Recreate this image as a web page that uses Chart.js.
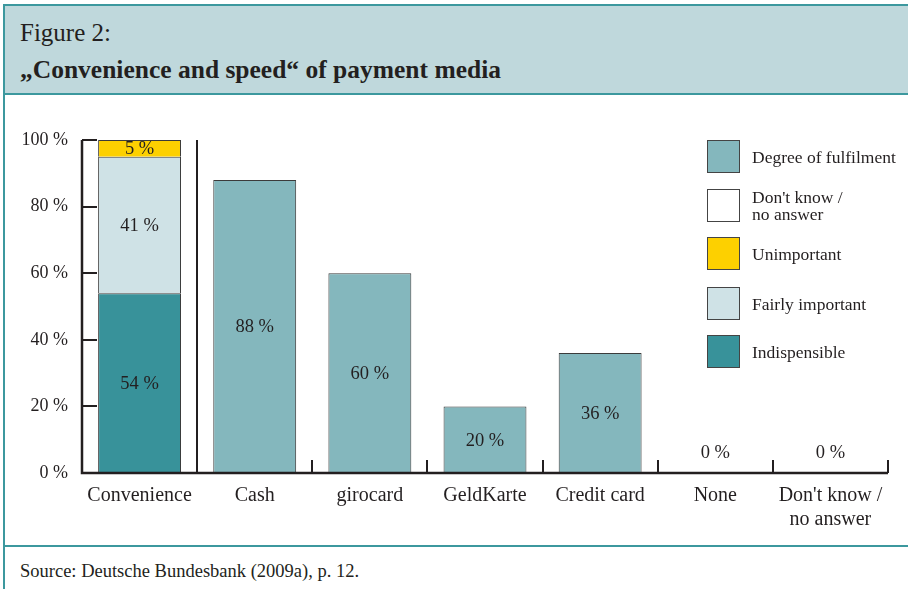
<!DOCTYPE html>
<html>
<head>
<meta charset="utf-8">
<script src="https://cdn.jsdelivr.net/npm/chart.js@4"></script>
<style>
  body { margin: 0; background: #fff; }
  #page { position: relative; width: 908px; height: 589px; overflow: hidden; font-family: "Liberation Serif", serif; color: #231f20; }
  #titlebox { position: absolute; left: 3px; top: 4px; width: 905px; height: 87px; background: #bfd8dc; border-top: 2px solid #3c989e; border-bottom: 2px solid #3c989e; }
  #leftline { position: absolute; left: 3px; top: 4px; width: 2px; height: 585px; background: #3c989e; }
  #divider { position: absolute; left: 3px; top: 545px; width: 905px; height: 2px; background: #3c989e; }
  #fig { position: absolute; left: 20px; top: 19px; font-size: 25px; }
  #title { position: absolute; left: 20px; top: 55px; font-size: 25.5px; font-weight: bold; }
  #source { position: absolute; left: 20px; top: 561px; font-size: 18.5px; }
  #chartwrap { position: absolute; left: 0; top: 97px; width: 908px; height: 448px; }
  #legend { position: absolute; left: 707px; top: 140px; }
  .item { position: absolute; left: 0; width: 200px; height: 33px; }
  .box { position: absolute; left: 0; top: 0; width: 33px; height: 33px; border: 1px solid #444; box-sizing: border-box; }
  .lbl { position: absolute; left: 45px; top: 50%; transform: translateY(-50%); font-size: 17.5px; line-height: 17px; white-space: nowrap; }
</style>
</head>
<body>
<div id="page">
  <div id="titlebox"></div>
  <div id="leftline"></div>
  <div id="fig">Figure 2:</div>
  <div id="title">„Convenience and speed“ of payment media</div>
  <div id="chartwrap"><canvas id="chart"></canvas></div>
  <div id="legend"></div>
  <div id="divider"></div>
  <div id="source">Source: Deutsche Bundesbank (2009a), p. 12.</div>
</div>
<script>
// categories on the x axis
const categories = ['Convenience', 'Cash', 'girocard', 'GeldKarte', 'Credit card', 'None', ["Don't know /", 'no answer']];

// importance of convenience (only first column)
const indispensible = [54, null, null, null, null, null, null];
const fairlyImportant = [41, null, null, null, null, null, null];
const unimportant = [5, null, null, null, null, null, null];
// degree of fulfilment per payment medium
const fulfilment = [null, 88, 60, 20, 36, 0, 0];

const yTicks = [0, 20, 40, 60, 80, 100];

const colFulfil = '#84b7bd';
const colIndisp = '#38929a';
const colFairly = '#cfe2e6';
const colUnimp = '#fdd000';
const colDontKnow = '#ffffff';

// legend (top to bottom)
const legendItems = [
  { text: 'Degree of fulfilment', color: colFulfil, top: 0 },
  { text: "Don't know /<br>no answer", color: colDontKnow, top: 49 },
  { text: 'Unimportant', color: colUnimp, top: 97 },
  { text: 'Fairly important', color: colFairly, top: 147 },
  { text: 'Indispensible', color: colIndisp, top: 195 }
];
const legendEl = document.getElementById('legend');
legendItems.forEach(it => {
  const d = document.createElement('div');
  d.className = 'item';
  d.style.top = it.top + 'px';
  d.innerHTML = '<div class="box" style="background:' + it.color + '"></div><div class="lbl">' + it.text + '</div>';
  legendEl.appendChild(d);
});

const FONT = '"Liberation Serif", serif';
const INK = '#231f20';

// axis lines, inner ticks and the separator line
const axisPlugin = {
  id: 'axisLines',
  afterDatasetsDraw(chart) {
    const { ctx, chartArea: a, scales } = chart;
    const x = scales.x, y = scales.y;
    const step = (a.right - a.left) / categories.length;
    ctx.save();
    ctx.strokeStyle = INK;
    ctx.lineWidth = 2.5;
    ctx.beginPath();
    ctx.moveTo(a.left, y.getPixelForValue(100));
    ctx.lineTo(a.left, a.bottom);
    ctx.lineTo(a.right, a.bottom);
    ctx.stroke();
    ctx.lineWidth = 2;
    yTicks.forEach(v => {
      const py = Math.round(y.getPixelForValue(v));
      ctx.beginPath();
      ctx.moveTo(a.left, py);
      ctx.lineTo(a.left + 15, py);
      ctx.stroke();
    });
    for (let i = 1; i <= categories.length; i++) {
      const px = Math.round(x.getPixelForValue(i - 1) + step / 2);
      ctx.beginPath();
      if (i === 1) {
        ctx.moveTo(px, y.getPixelForValue(100));
      } else {
        ctx.moveTo(px, a.bottom - 13);
      }
      ctx.lineTo(px, a.bottom);
      ctx.stroke();
    }
    ctx.restore();
  }
};

// value labels inside the bars
const labelPlugin = {
  id: 'valueLabels',
  afterDatasetsDraw(chart) {
    const { ctx, chartArea: a } = chart;
    ctx.save();
    ctx.font = '18.5px ' + FONT;
    ctx.fillStyle = INK;
    ctx.textAlign = 'center';
    ctx.textBaseline = 'middle';
    chart.data.datasets.forEach((ds, di) => {
      const meta = chart.getDatasetMeta(di);
      meta.data.forEach((bar, i) => {
        const v = ds.data[i];
        if (v === null || v === undefined) return;
        let py = (bar.y + bar.base) / 2;
        if (v === 0) py = a.bottom - 21;
        ctx.fillText(v + ' %', bar.x, py + 1);
      });
    });
    ctx.restore();
  }
};

const ctx = document.getElementById('chart').getContext('2d');
const barStyle = { borderColor: '#3b3b3b', borderWidth: 1, barPercentage: 0.72, categoryPercentage: 1 };
new Chart(ctx, {
  type: 'bar',
  data: {
    labels: categories,
    datasets: [
      Object.assign({ label: 'Indispensible', data: indispensible, backgroundColor: colIndisp }, barStyle),
      Object.assign({ label: 'Fairly important', data: fairlyImportant, backgroundColor: colFairly }, barStyle),
      Object.assign({ label: 'Unimportant', data: unimportant, backgroundColor: colUnimp }, barStyle),
      Object.assign({ label: 'Degree of fulfilment', data: fulfilment, backgroundColor: colFulfil }, barStyle)
    ]
  },
  options: {
    responsive: true,
    maintainAspectRatio: false,
    animation: false,
    layout: { padding: { top: 43, right: 20, left: 0, bottom: 0 } },
    plugins: { legend: { display: false }, tooltip: { enabled: false } },
    scales: {
      x: {
        stacked: true,
        grid: { display: false, drawTicks: false },
        border: { display: false },
        ticks: { color: INK, font: { family: FONT, size: 20 }, padding: 11, maxRotation: 0, autoSkip: false },
        afterFit(s) { s.height = 72; }
      },
      y: {
        stacked: true,
        min: 0,
        max: 100,
        grid: { display: false, drawTicks: false },
        border: { display: false },
        ticks: { stepSize: 20, color: INK, font: { family: FONT, size: 18 }, padding: 14, callback: v => v + ' %' },
        afterFit(s) { s.width = 82; }
      }
    }
  },
  plugins: [axisPlugin, labelPlugin]
});
</script>
</body>
</html>
